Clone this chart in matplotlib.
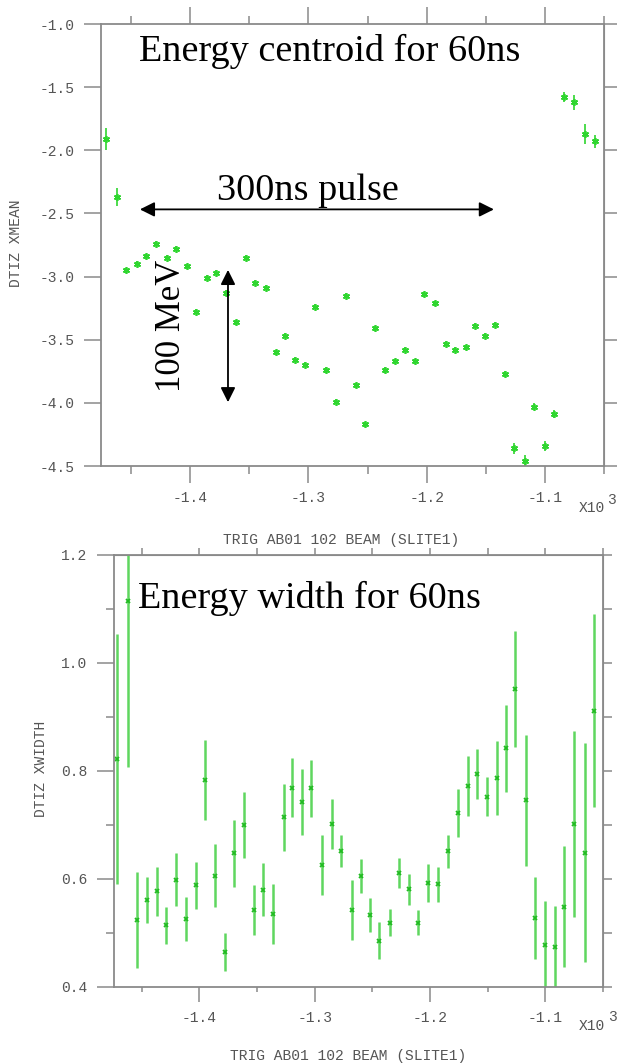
import matplotlib
matplotlib.use("Agg")
import matplotlib.pyplot as plt

# beam time (x10^3 ns), one entry per 60ns slice
x_ns = [-1.471, -1.462, -1.454, -1.445, -1.437, -1.429, -1.420, -1.412, -1.403, -1.395,
        -1.386, -1.378, -1.370, -1.361, -1.353, -1.345, -1.336, -1.327, -1.320, -1.311,
        -1.303, -1.294, -1.285, -1.277, -1.268, -1.260, -1.252, -1.244, -1.235, -1.227,
        -1.218, -1.210, -1.202, -1.193, -1.184, -1.176, -1.167, -1.159, -1.151, -1.142,
        -1.134, -1.126, -1.117, -1.109, -1.100, -1.092, -1.084, -1.075, -1.066, -1.058]

# DTIZ XMEAN
centroid = [-1.91, -2.37, -2.95, -2.90, -2.84, -2.74, -2.85, -2.78, -2.92, -3.28,
            -3.01, -2.97, -3.13, -3.36, -2.85, -3.05, -3.09, -3.60, -3.47, -3.66,
            -3.70, -3.24, -3.74, -3.99, -3.15, -3.86, -4.17, -3.41, -3.74, -3.67,
            -3.58, -3.67, -3.14, -3.21, -3.53, -3.58, -3.56, -3.39, -3.47, -3.38,
            -3.77, -4.36, -4.46, -4.03, -4.34, -4.09, -1.58, -1.62, -1.87, -1.93]
centroid_err = [0.09, 0.07, 0.02, 0.02, 0.02, 0.02, 0.02, 0.02, 0.02, 0.02,
                0.02, 0.02, 0.02, 0.02, 0.02, 0.02, 0.02, 0.02, 0.02, 0.02,
                0.02, 0.02, 0.02, 0.02, 0.02, 0.02, 0.02, 0.02, 0.02, 0.02,
                0.02, 0.02, 0.02, 0.02, 0.02, 0.02, 0.02, 0.02, 0.02, 0.02,
                0.025, 0.045, 0.045, 0.03, 0.04, 0.03, 0.04, 0.06, 0.08, 0.05]

# DTIZ XWIDTH
width = [0.822, 1.114, 0.524, 0.561, 0.577, 0.514, 0.599, 0.526, 0.588, 0.783,
         0.606, 0.465, 0.648, 0.700, 0.543, 0.580, 0.535, 0.714, 0.769, 0.742,
         0.768, 0.626, 0.702, 0.652, 0.543, 0.606, 0.533, 0.486, 0.519, 0.611,
         0.581, 0.519, 0.593, 0.590, 0.651, 0.722, 0.772, 0.794, 0.752, 0.787,
         0.842, 0.952, 0.746, 0.527, 0.477, 0.475, 0.549, 0.702, 0.649, 0.912]
width_err = [0.232, 0.307, 0.089, 0.042, 0.046, 0.035, 0.049, 0.040, 0.043, 0.074,
             0.058, 0.035, 0.062, 0.062, 0.046, 0.049, 0.055, 0.062, 0.055, 0.061,
             0.053, 0.056, 0.046, 0.030, 0.056, 0.031, 0.032, 0.034, 0.025, 0.028,
             0.029, 0.023, 0.035, 0.033, 0.031, 0.045, 0.056, 0.046, 0.036, 0.068,
             0.080, 0.108, 0.121, 0.076, 0.083, 0.075, 0.112, 0.173, 0.203, 0.179]

xticks = [-1.4, -1.3, -1.2, -1.1]
xticklabels = ["-1.4", "-1.3", "-1.2", "-1.1"]
xminor = [-1.45, -1.35, -1.25, -1.15, -1.05]
top_yticks = [-4.5, -4.0, -3.5, -3.0, -2.5, -2.0, -1.5, -1.0]
top_yticklabels = ["-4.5", "-4.0", "-3.5", "-3.0", "-2.5", "-2.0", "-1.5", "-1.0"]
bot_yticks = [0.4, 0.6, 0.8, 1.0, 1.2]
bot_yticklabels = ["0.4", "0.6", "0.8", "1.0", "1.2"]
bot_yminor = [0.5, 0.7, 0.9, 1.1]

GREY = "#8a8a8a"
TXT = "#555555"
MONO = "Liberation Mono"
SERIF = "Liberation Serif"
W, H = 617, 1063

fig = plt.figure(figsize=(W / 100, H / 100), dpi=100)


def px_axes(l, t, r, b):
    return fig.add_axes([l / W, 1 - b / H, (r - l) / W, (b - t) / H])


def frame(ax):
    for s in ax.spines.values():
        s.set_color(GREY)
        s.set_linewidth(1.3)


def ticklabels(ax):
    for lab in ax.get_xticklabels() + ax.get_yticklabels():
        lab.set_fontfamily(MONO)
        lab.set_fontsize(10.5)
        lab.set_color(TXT)


# ---------------- top: energy centroid ----------------
ax1 = px_axes(101, 24, 604, 466)
ax1.errorbar(x_ns, centroid, yerr=centroid_err, fmt="none", ecolor="#2fd62f", elinewidth=1.2)
ax1.plot(x_ns, centroid, ls="none", marker=(6, 2, 0), ms=5, mew=1.2, color="#2fd62f")
ax1.set_xlim(-1.4754, -1.0532)
ax1.set_ylim(-4.5, -1.0)
ax1.set_xticks(xticks)
ax1.set_xticklabels(xticklabels)
ax1.set_xticks(xminor, minor=True)
ax1.set_yticks(top_yticks)
ax1.set_yticklabels(top_yticklabels)
ax1.tick_params(axis="x", which="major", direction="out", length=12, width=1.1, color=GREY, pad=6, top=True)
ax1.tick_params(axis="x", which="minor", direction="out", length=5.5, width=1.1, color=GREY, top=True)
ax1.tick_params(axis="y", which="major", direction="out", length=12.5, width=1.1, color=GREY, pad=6.5)
sec = ax1.secondary_yaxis("right")
sec.set_yticks(top_yticks)
sec.tick_params(direction="out", length=10, width=1.1, color=GREY, labelright=False)
sec.spines["right"].set_color(GREY)
frame(ax1)
ticklabels(ax1)

ax1.text(0.0755, 0.916, "Energy centroid for 60ns", transform=ax1.transAxes,
         family=SERIF, fontsize=27.5, va="baseline", ha="left")
ax1.text(-1.300, -2.394, "300ns pulse", family=SERIF, fontsize=27.5, va="baseline", ha="center")
ax1.annotate("", xy=(-1.1431, -2.468), xytext=(-1.4425, -2.468),
             arrowprops=dict(arrowstyle="<|-|>", color="black", lw=1.3, mutation_scale=22,
                             shrinkA=0, shrinkB=0))
ax1.text(-1.4155, -3.391, "100 MeV", family=SERIF, fontsize=25, rotation=90,
         va="center", ha="center")
ax1.annotate("", xy=(-1.368, -3.995), xytext=(-1.368, -2.947),
             arrowprops=dict(arrowstyle="<|-|>", color="black", lw=1.3, mutation_scale=22,
                             shrinkA=0, shrinkB=0))

fig.text(16.5 / W, 1 - 243 / H, "DTIZ XMEAN", rotation=90, family=MONO, fontsize=10.5,
         color=TXT, ha="center", va="center")
fig.text(341 / W, 1 - 540 / H, "TRIG AB01 102 BEAM (SLITE1)", family=MONO, fontsize=10.5,
         color=TXT, ha="center", va="center")
fig.text(592 / W, 1 - 508 / H, "X10", family=MONO, fontsize=10.5, color=TXT, ha="center", va="center")
fig.text(611 / W, 1 - 500 / H, "3", family=MONO, fontsize=10.5, color=TXT, ha="center", va="center")

# ---------------- bottom: energy width ----------------
ax2 = px_axes(114, 555, 603, 987)
ax2.errorbar(x_ns, width, yerr=width_err, fmt="none", ecolor="#5fd65f", elinewidth=1.8)
ax2.plot(x_ns, width, ls="none", marker="x", ms=3.5, mew=1.3, color="#22bb22")
ax2.set_xlim(-1.474, -1.0536)
ax2.set_ylim(0.4, 1.2)
ax2.set_xticks(xticks)
ax2.set_xticklabels(xticklabels)
ax2.set_xticks(xminor, minor=True)
ax2.set_yticks(bot_yticks)
ax2.set_yticklabels(bot_yticklabels)
ax2.set_yticks(bot_yminor, minor=True)
ax2.tick_params(axis="x", which="major", direction="out", length=10.5, width=1.1, color=GREY, pad=6.5)
ax2.tick_params(axis="x", which="minor", direction="out", length=3.6, width=1.1, color=GREY)
ax2.tick_params(axis="y", which="major", direction="out", length=12.5, width=1.1, color=GREY, pad=6.5)
ax2.tick_params(axis="y", which="minor", direction="out", length=5.8, width=1.1, color=GREY)
secx = ax2.secondary_xaxis("top")
secx.set_xticks(xticks + xminor)
secx.tick_params(direction="out", length=5, width=1.1, color=GREY, labeltop=False)
secx.spines["top"].set_color(GREY)
secy = ax2.secondary_yaxis("right")
secy.set_yticks(bot_yticks + bot_yminor)
secy.tick_params(direction="out", length=6.2, width=1.1, color=GREY, labelright=False)
secy.spines["right"].set_color(GREY)
frame(ax2)
ticklabels(ax2)

ax2.text(0.049, 0.877, "Energy width for 60ns", transform=ax2.transAxes,
         family=SERIF, fontsize=27.5, va="baseline", ha="left")

fig.text(41 / W, 1 - 769 / H, "DTIZ XWIDTH", rotation=90, family=MONO, fontsize=10.5,
         color=TXT, ha="center", va="center")
fig.text(348 / W, 1 - 1056 / H, "TRIG AB01 102 BEAM (SLITE1)", family=MONO, fontsize=10.5,
         color=TXT, ha="center", va="center")
fig.text(592 / W, 1 - 1026 / H, "X10", family=MONO, fontsize=10.5, color=TXT, ha="center", va="center")
fig.text(612 / W, 1 - 1017 / H, "3", family=MONO, fontsize=10.5, color=TXT, ha="center", va="center")

fig.savefig("out.png", dpi=100)
